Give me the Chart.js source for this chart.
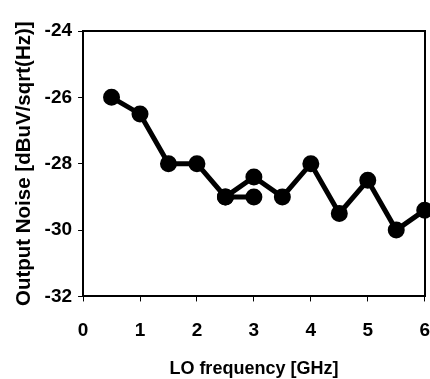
<!DOCTYPE html>
<html>
<head>
<meta charset="utf-8">
<script src="https://cdn.jsdelivr.net/npm/chart.js@4"></script>
<style>
    html, body { margin: 0; padding: 0; background: #fff; }
    #wrap { width: 430px; height: 379px; }
</style>
</head>
<body>
<div id="wrap"><canvas id="noiseChart" width="430" height="379"></canvas></div>
<script>
    // LO frequency [GHz] / output noise [dBuV/sqrt(Hz)]
    const freqA = [0.5, 1, 1.5, 2, 2.5, 3];
    const noiseA = [-26, -26.5, -28, -28, -29, -29];
    const freqB = [2.5, 3, 3.5, 4, 4.5, 5, 5.5, 6];
    const noiseB = [-29, -28.4, -29, -28, -29.5, -28.5, -30, -29.4];

    const xTicks = [0, 1, 2, 3, 4, 5, 6];
    const yTicks = [-32, -30, -28, -26, -24];

    const font = "'Liberation Sans', Arial, sans-serif";

    function toPoints(xs, ys) {
        return xs.map((x, i) => ({ x: x, y: ys[i] }));
    }

    function series(data) {
        return {
            data: data,
            borderColor: '#000',
            backgroundColor: '#000',
            borderWidth: 5,
            pointRadius: 6,
            pointHoverRadius: 6,
            tension: 0,
            clip: false
        };
    }

    const ctx = document.getElementById('noiseChart').getContext('2d');
    new Chart(ctx, {
        type: 'line',
        data: {
            datasets: [
                series(toPoints(freqA, noiseA)),
                series(toPoints(freqB, noiseB))
            ]
        },
        options: {
            responsive: false,
            animation: false,
            layout: { autoPadding: false, padding: { top: 31, right: 0, left: 12, bottom: 0 } },
            plugins: { legend: { display: false }, tooltip: { enabled: false } },
            scales: {
                x: {
                    type: 'linear',
                    min: xTicks[0],
                    max: xTicks[xTicks.length - 1],
                    afterBuildTicks: axis => { axis.ticks = xTicks.map(v => ({ value: v })); },
                    grid: { display: true, drawOnChartArea: false, drawTicks: true, tickLength: 5, color: '#000', lineWidth: 1 },
                    border: { color: '#000', width: 2 },
                    // tall line height pushes the labels down without widening the right margin
                    ticks: { color: '#000', font: { family: font, size: 19, weight: 'bold', lineHeight: 3.04 }, padding: 0 },
                    title: {
                        display: true,
                        text: 'LO frequency [GHz]',
                        color: '#000',
                        font: { family: font, size: 18, weight: 'bold', lineHeight: 1.1 },
                        padding: { top: 0, bottom: 0 }
                    }
                },
                x2: {
                    type: 'linear',
                    position: 'top',
                    min: 0,
                    max: 6,
                    grid: { display: false, drawTicks: false },
                    border: { color: '#000', width: 2 },
                    ticks: { display: false }
                },
                y: {
                    min: yTicks[0],
                    max: yTicks[yTicks.length - 1],
                    afterBuildTicks: axis => { axis.ticks = yTicks.map(v => ({ value: v })); },
                    grid: { display: true, drawOnChartArea: false, drawTicks: true, tickLength: 5, color: '#000', lineWidth: 1 },
                    border: { color: '#000', width: 2 },
                    ticks: { color: '#000', font: { family: font, size: 19, weight: 'bold' }, padding: 6 },
                    title: {
                        display: true,
                        text: 'Output Noise [dBuV/sqrt(Hz)]',
                        color: '#000',
                        font: { family: font, size: 20.5, weight: 'bold' },
                        padding: { top: 0, bottom: 2 }
                    }
                },
                y2: {
                    position: 'right',
                    min: -32,
                    max: -24,
                    grid: { display: false, drawTicks: false },
                    border: { color: '#000', width: 2 },
                    ticks: { display: false }
                }
            }
        }
    });
</script>
</body>
</html>
